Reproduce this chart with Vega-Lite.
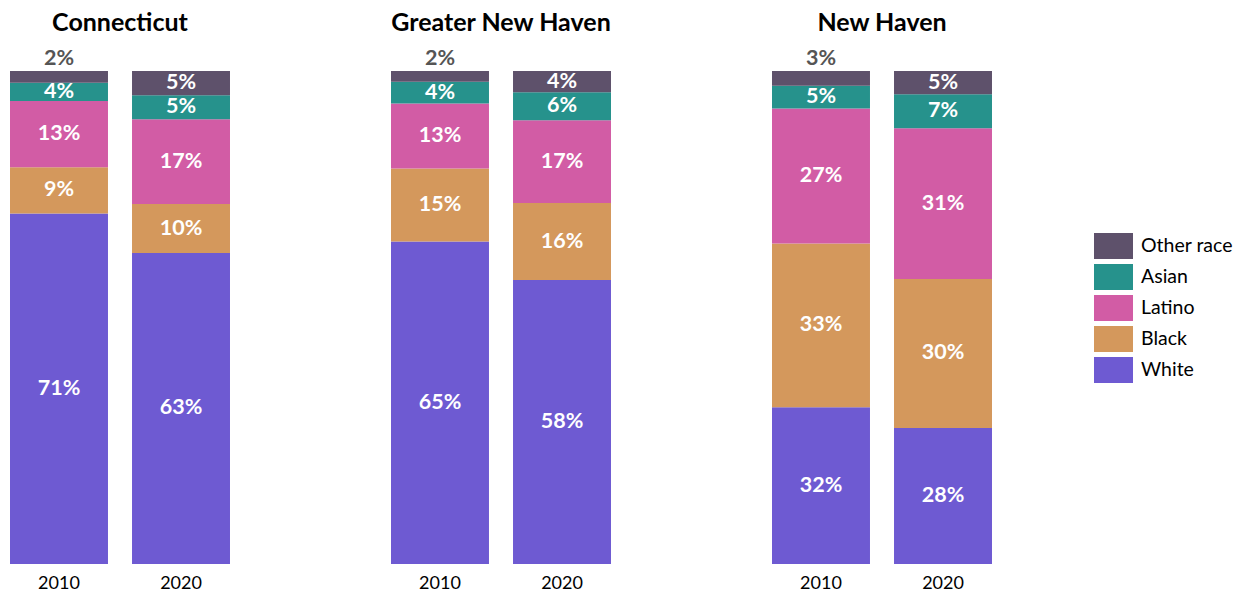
{
  "$schema": "https://vega.github.io/schema/vega-lite/v6.json",
  "padding": {"left": 0, "top": 11, "right": 0, "bottom": 0},
  "config": {"font": "Lato", "view": {"stroke": null}},
  "data": {"values": [
    {"region": "Connecticut", "year": "2010", "race": "White", "o": 1, "value": 0.711},
    {"region": "Connecticut", "year": "2010", "race": "Black", "o": 2, "value": 0.094},
    {"region": "Connecticut", "year": "2010", "race": "Latino", "o": 3, "value": 0.134},
    {"region": "Connecticut", "year": "2010", "race": "Asian", "o": 4, "value": 0.037},
    {"region": "Connecticut", "year": "2010", "race": "Other race", "o": 5, "value": 0.024},
    {"region": "Connecticut", "year": "2020", "race": "White", "o": 1, "value": 0.631},
    {"region": "Connecticut", "year": "2020", "race": "Black", "o": 2, "value": 0.099},
    {"region": "Connecticut", "year": "2020", "race": "Latino", "o": 3, "value": 0.172},
    {"region": "Connecticut", "year": "2020", "race": "Asian", "o": 4, "value": 0.049},
    {"region": "Connecticut", "year": "2020", "race": "Other race", "o": 5, "value": 0.049},
    {"region": "Greater New Haven", "year": "2010", "race": "White", "o": 1, "value": 0.654},
    {"region": "Greater New Haven", "year": "2010", "race": "Black", "o": 2, "value": 0.148},
    {"region": "Greater New Haven", "year": "2010", "race": "Latino", "o": 3, "value": 0.132},
    {"region": "Greater New Haven", "year": "2010", "race": "Asian", "o": 4, "value": 0.044},
    {"region": "Greater New Haven", "year": "2010", "race": "Other race", "o": 5, "value": 0.022},
    {"region": "Greater New Haven", "year": "2020", "race": "White", "o": 1, "value": 0.576},
    {"region": "Greater New Haven", "year": "2020", "race": "Black", "o": 2, "value": 0.156},
    {"region": "Greater New Haven", "year": "2020", "race": "Latino", "o": 3, "value": 0.168},
    {"region": "Greater New Haven", "year": "2020", "race": "Asian", "o": 4, "value": 0.057},
    {"region": "Greater New Haven", "year": "2020", "race": "Other race", "o": 5, "value": 0.043},
    {"region": "New Haven", "year": "2010", "race": "White", "o": 1, "value": 0.318},
    {"region": "New Haven", "year": "2010", "race": "Black", "o": 2, "value": 0.332},
    {"region": "New Haven", "year": "2010", "race": "Latino", "o": 3, "value": 0.274},
    {"region": "New Haven", "year": "2010", "race": "Asian", "o": 4, "value": 0.046},
    {"region": "New Haven", "year": "2010", "race": "Other race", "o": 5, "value": 0.030},
    {"region": "New Haven", "year": "2020", "race": "White", "o": 1, "value": 0.276},
    {"region": "New Haven", "year": "2020", "race": "Black", "o": 2, "value": 0.302},
    {"region": "New Haven", "year": "2020", "race": "Latino", "o": 3, "value": 0.306},
    {"region": "New Haven", "year": "2020", "race": "Asian", "o": 4, "value": 0.069},
    {"region": "New Haven", "year": "2020", "race": "Other race", "o": 5, "value": 0.047}
  ]},
  "facet": {
    "column": {
      "field": "region", "type": "nominal",
      "sort": ["Connecticut", "Greater New Haven", "New Haven"],
      "title": null,
      "header": {"labelFontSize": 25, "labelFontWeight": "bold", "labelColor": "#000", "labelPadding": 12}
    }
  },
  "spacing": 141,
  "spec": {
    "width": 240,
    "height": 493,
    "encoding": {
      "x": {"field": "year", "type": "nominal", "title": null,
        "scale": {"paddingInner": 0.197, "paddingOuter": 0.082},
        "axis": {"labelAngle": 0, "ticks": false, "domain": false, "labelFontSize": 18, "labelPadding": 10, "labelColor": "#000"}},
      "y": {"field": "value", "type": "quantitative", "stack": "normalize", "axis": null},
      "order": {"field": "o", "type": "quantitative"}
    },
    "layer": [
      {
        "mark": {"type": "bar"},
        "encoding": {
          "color": {"field": "race", "type": "nominal",
            "scale": {"domain": ["Other race", "Asian", "Latino", "Black", "White"],
                      "range": ["#5E516B", "#26928C", "#D25CA5", "#D4985C", "#6E5AD2"]},
            "legend": {"title": null, "orient": "none", "legendX": 1094, "legendY": 162,
              "symbolType": "M-1,-0.667H1V0.667H-1Z", "symbolSize": 1521, "symbolStrokeWidth": 0,
              "clipHeight": 26,
              "labelFontSize": 19.5, "labelColor": "#000", "rowPadding": 5, "labelOffset": 8}}
        }
      },
      {
        "mark": {"type": "text", "color": "white", "fontWeight": "bold", "fontSize": 21.5, "baseline": "middle"},
        "encoding": {
          "y": {"field": "value", "type": "quantitative", "stack": "normalize", "bandPosition": 0.5, "axis": null},
          "text": {"condition": {"test": "datum.value >= 0.035", "field": "value", "type": "quantitative", "format": ".0%"}, "value": ""}
        }
      },
      {
        "mark": {"type": "text", "color": "#555555", "fontWeight": "bold", "fontSize": 21.5, "baseline": "middle", "dy": -12},
        "encoding": {
          "text": {"condition": {"test": "datum.value < 0.035", "field": "value", "type": "quantitative", "format": ".0%"}, "value": ""}
        }
      }
    ]
  }
}
